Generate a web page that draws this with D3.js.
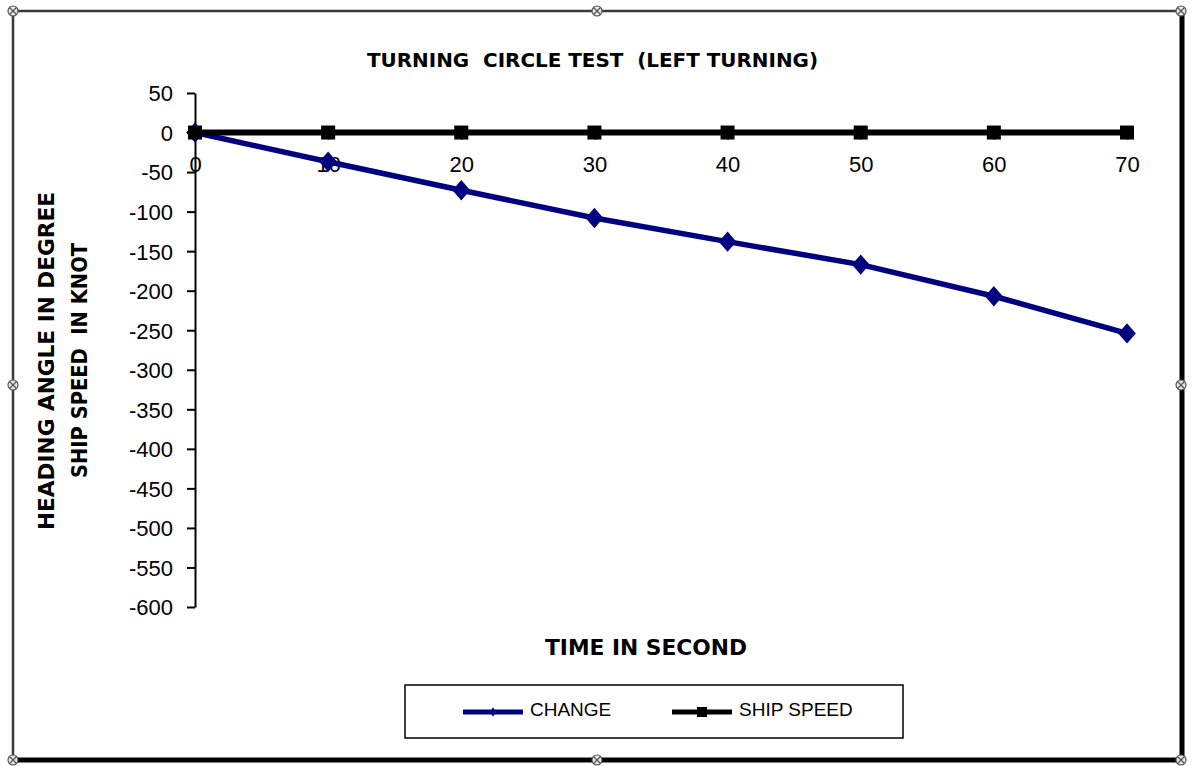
<!DOCTYPE html>
<html>
<head>
<meta charset="utf-8">
<title>Turning circle test</title>
<style>
    body { margin: 0; background: #ffffff; }
    svg { display: block; }
    .tick text { font-family: "Liberation Sans", Arial, sans-serif; font-size: 22px; fill: #000; }
    .axis path, .axis line { stroke: #000; stroke-width: 2px; }
    .title { font-family: "DejaVu Sans", Tahoma, sans-serif; font-weight: bold; fill: #000; white-space: pre; }
    .legend text { font-family: "Liberation Sans", Arial, sans-serif; font-size: 19px; fill: #000; }
</style>
<script src="https://cdn.jsdelivr.net/npm/d3@7"></script>
</head>
<body>
<script>
    // data
    const times = [0, 10, 20, 30, 40, 50, 60, 70];
    const change = [0, -37, -73, -108, -138, -167, -207, -254];
    const shipSpeed = [0, 0, 0, 0, 0, 0, 0, 0];
    const yTicks = [50, 0, -50, -100, -150, -200, -250, -300, -350, -400, -450, -500, -550, -600];
    const xTicks = [0, 10, 20, 30, 40, 50, 60, 70];
    const seriesNames = ["CHANGE", "SHIP SPEED"];

    const W = 1199, H = 766;
    const navy = "#000080";

    const svg = d3.select("body").append("svg")
        .attr("width", W)
        .attr("height", H);

    // outer chart frame (thin top/left, heavy shadow right/bottom)
    svg.append("rect")
        .attr("x", 13).attr("y", 11)
        .attr("width", 1169).attr("height", 749)
        .attr("fill", "#fff")
        .attr("stroke", "#3a3a3a")
        .attr("stroke-width", 2.5);
    svg.append("line")
        .attr("x1", 1182).attr("y1", 11).attr("x2", 1182).attr("y2", 762)
        .attr("stroke", "#000").attr("stroke-width", 5);
    svg.append("line")
        .attr("x1", 13).attr("y1", 760).attr("x2", 1184).attr("y2", 760)
        .attr("stroke", "#000").attr("stroke-width", 5);

    // selection handles
    const handles = [[13, 11], [597, 11], [1181, 11], [13, 385], [1181, 385], [13, 760], [597, 760], [1181, 760]];
    let hg = svg.append("g").selectAll("g").data(handles).enter().append("g")
        .attr("transform", d => "translate(" + d[0] + "," + d[1] + ")");
    hg.append("circle").attr("r", 5).attr("fill", "#e6e6e6").attr("stroke", "#555").attr("stroke-width", 1.2);
    hg.append("path").attr("d", "M-3,-3L3,3M-3,3L3,-3").attr("stroke", "#555").attr("stroke-width", 1.2);

    const x = d3.scaleLinear().domain([0, 70]).range([195, 1127]);
    const y = d3.scaleLinear().domain([-600, 50]).range([607, 93]);

    // y axis
    svg.append("g")
        .attr("class", "axis y")
        .attr("transform", "translate(" + x(0) + ",0)")
        .call(d3.axisLeft(y).tickValues(yTicks).tickFormat(d => String(d))
            .tickSize(8).tickPadding(14).tickSizeOuter(0))
        .call(g => g.selectAll(".tick text").attr("dy", "0.36em"));

    // x axis sits on the zero line
    svg.append("g")
        .attr("class", "axis x")
        .attr("transform", "translate(0," + y(0) + ")")
        .call(d3.axisBottom(x).tickValues(xTicks).tickFormat(d => String(d))
            .tickSize(7).tickPadding(17).tickSizeOuter(0));

    // titles
    svg.append("text")
        .attr("class", "title")
        .attr("x", 367).attr("y", 67)
        .attr("font-size", "20px")
        .attr("textLength", 451)
        .attr("lengthAdjust", "spacingAndGlyphs")
        .text("TURNING  CIRCLE TEST  (LEFT TURNING)");

    svg.append("text")
        .attr("class", "title")
        .attr("x", 545).attr("y", 655)
        .attr("font-size", "22px")
        .attr("textLength", 202)
        .attr("lengthAdjust", "spacingAndGlyphs")
        .text("TIME IN SECOND");

    svg.append("text")
        .attr("class", "title")
        .attr("transform", "translate(54,530) rotate(-90)")
        .attr("font-size", "22px")
        .attr("textLength", 338)
        .attr("lengthAdjust", "spacingAndGlyphs")
        .text("HEADING ANGLE IN DEGREE");

    svg.append("text")
        .attr("class", "title")
        .attr("transform", "translate(87,478) rotate(-90)")
        .attr("font-size", "22px")
        .attr("textLength", 235)
        .attr("lengthAdjust", "spacingAndGlyphs")
        .text("SHIP SPEED  IN KNOT");

    const line = d3.line()
        .x((d, i) => x(times[i]))
        .y(d => y(d));

    // CHANGE series
    svg.append("path")
        .datum(change)
        .attr("fill", "none")
        .attr("stroke", navy)
        .attr("stroke-width", 5.5)
        .attr("stroke-linejoin", "round")
        .attr("d", line);

    const diamond = d3.symbol().type(d3.symbolDiamond2).size(200);
    svg.append("g").selectAll("path")
        .data(change)
        .enter().append("path")
        .attr("transform", (d, i) => "translate(" + x(times[i]) + "," + y(d) + ") scale(1,1.15)")
        .attr("fill", navy)
        .attr("d", diamond);

    // SHIP SPEED series
    svg.append("path")
        .datum(shipSpeed)
        .attr("fill", "none")
        .attr("stroke", "#000")
        .attr("stroke-width", 6)
        .attr("d", line);

    svg.append("g").selectAll("rect")
        .data(shipSpeed)
        .enter().append("rect")
        .attr("x", (d, i) => x(times[i]) - 7)
        .attr("y", d => y(d) - 7)
        .attr("width", 14)
        .attr("height", 14)
        .attr("fill", "#000");

    // legend
    let legend = svg.append("g").attr("class", "legend");
    legend.append("rect")
        .attr("x", 405).attr("y", 685)
        .attr("width", 498).attr("height", 53)
        .attr("fill", "#fff")
        .attr("stroke", "#000")
        .attr("stroke-width", 1.5);

    const legendX = [463, 672];
    const legendColor = [navy, "#000"];
    seriesNames.forEach((name, i) => {
        legend.append("line")
            .attr("x1", legendX[i]).attr("x2", legendX[i] + 60)
            .attr("y1", 712).attr("y2", 712)
            .attr("stroke", legendColor[i])
            .attr("stroke-width", 5);
        if (i === 0) {
            legend.append("path")
                .attr("transform", "translate(" + (legendX[i] + 30) + ",712) scale(0.6,1)")
                .attr("fill", navy)
                .attr("d", d3.symbol().type(d3.symbolDiamond2).size(60));
        } else {
            legend.append("rect")
                .attr("x", legendX[i] + 25).attr("y", 707)
                .attr("width", 10).attr("height", 10)
                .attr("fill", "#000");
        }
        legend.append("text")
            .attr("x", legendX[i] + 67)
            .attr("y", 716)
            .text(name);
    });
</script>
</body>
</html>
